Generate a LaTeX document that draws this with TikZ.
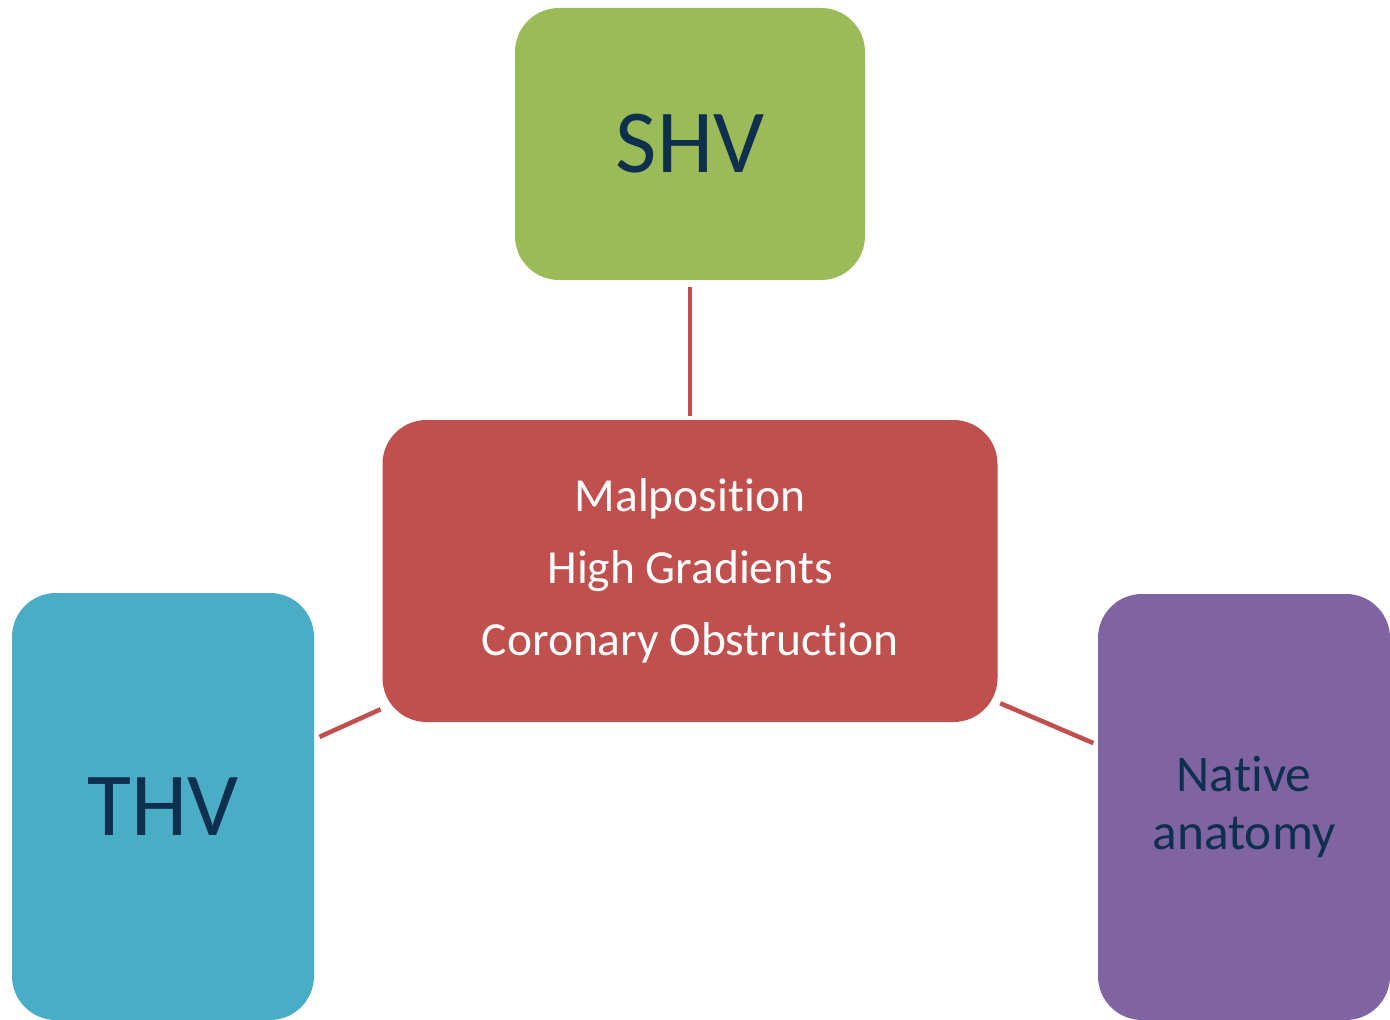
\documentclass[tikz,border=0pt]{standalone}
\usepackage{fontspec}
\setmainfont{Carlito}[RawFeature=-liga]
\definecolor{shvgreen}{HTML}{9BBB59}
\definecolor{centerred}{HTML}{C0504D}
\definecolor{thvblue}{HTML}{4BACC6}
\definecolor{nativepurple}{HTML}{8064A2}
\definecolor{darktext}{HTML}{0E2F4E}
\tikzset{
  box/.style={rectangle, rounded corners=33pt, inner sep=0pt, outer sep=0pt, draw=none, align=center},
  link/.style={draw=centerred, line width=3.4pt}
}
\begin{document}
\begin{tikzpicture}[x=0.75pt, y=-0.75pt]
\useasboundingbox (0,0) rectangle (1390,1020);
\node[box, fill=shvgreen, minimum width=262.5pt, minimum height=204pt, text=darktext,
      font=\fontsize{67.5}{81}\selectfont] (shv) at (690,144) {SHV};
\node[box, fill=centerred, minimum width=461.25pt, minimum height=226.5pt, text=white,
      font=\fontsize{35.6}{54}\selectfont] (mid) at (690,571)
      {Malposition\\High Gradients\\Coronary Obstruction};
\node[box, fill=thvblue, minimum width=226.5pt, minimum height=320.25pt, text=darktext,
      font=\fontsize{67.5}{81}\selectfont] (thv) at (163,806.5) {THV};
\node[box, fill=nativepurple, minimum width=219pt, minimum height=319.5pt, text=darktext,
      font=\fontsize{38.5}{43.5}\selectfont] (native) at (1244,807) {Native\\anatomy};
\draw[link, shorten <=5.25pt, shorten >=3pt] (shv) -- (mid);
\draw[link, shorten <=1.5pt, shorten >=4.5pt] (mid) -- (thv);
\draw[link, shorten <=2.25pt, shorten >=3.75pt] (mid) -- (native);
\end{tikzpicture}
\end{document}
